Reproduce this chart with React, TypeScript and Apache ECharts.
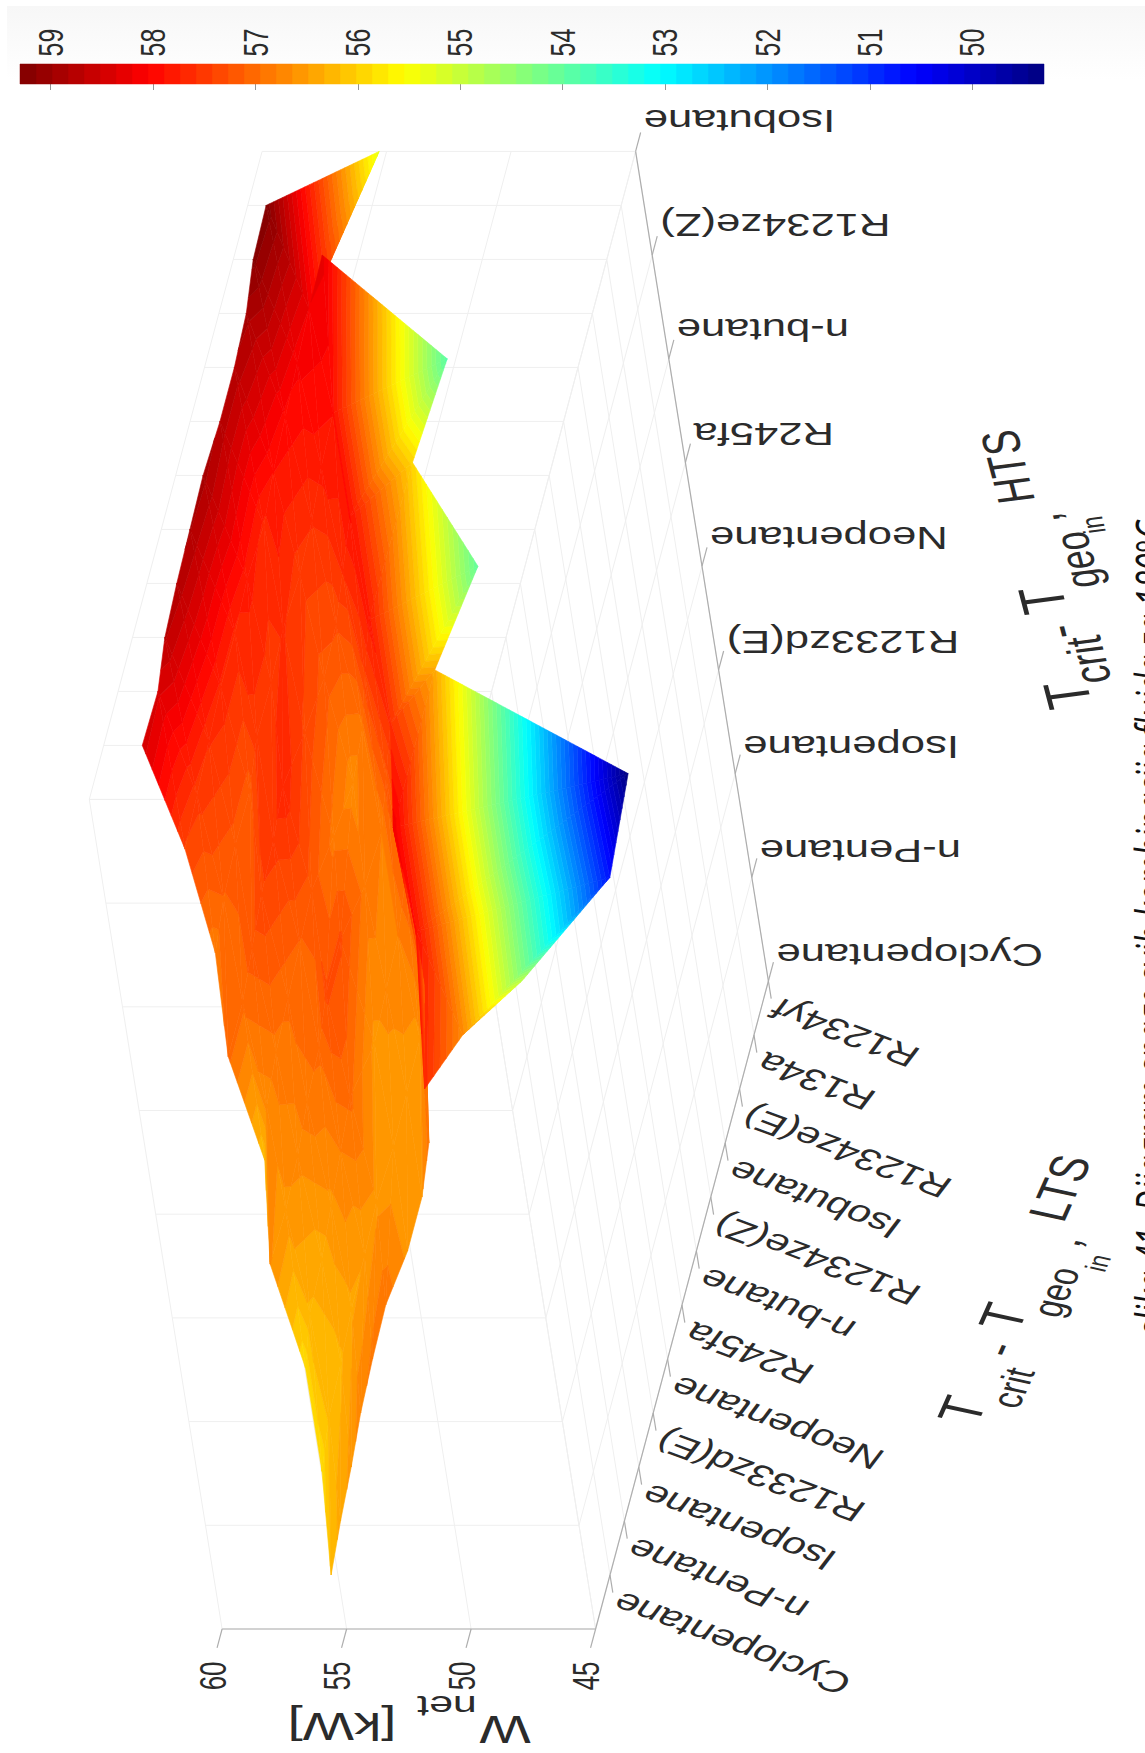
import React, { useEffect, useRef } from "react";
import * as echarts from "echarts";

const W = 1145, H = 1753;
const ltsLabels = ["Cyclopentane","n-Pentane","Isopentane","R1233zd(E)","Neopentane","R245fa","n-butane","R1234ze(Z)","Isobutane","R1234ze(E)","R134a","R1234yf"];
const htsLabels = ["Cyclopentane","n-Pentane","Isopentane","R1233zd(E)","Neopentane","R245fa","n-butane","R1234ze(Z)","Isobutane"];
const zTicks = [45, 50, 55, 60];
const cbTicks = [59,58,57,56,55,54,53,52,51,50];
const caption = "slika 41. Dijagram snage svih kombinacija fluida za 180°C";
// rows: HTS index, columns: LTS index
const row0 = [56.2,56.4,56.55,56.75,56.85,56.9,56.6,56.6,56.9,57.65,56.7,54.9];
const row1 = [55.9,56.2,56.3,56.45,56.5,56.6,56.5,56.55,56.6,57.0,57.9,50.7];
const row2 = [55.9,56.3,56.4,56.6,56.8,57.0,56.6,56.7,56.8,57.1,58.15,49.3];
const row3 = [56.65,56.6,56.7,56.9,57.0,57.3,57.3,56.9,56.8,57.2,57.6,56.4];
const row4 = [56.2,56.7,56.9,57.0,57.1,57.2,56.9,56.7,56.9,57.4,57.8,54.0];
const row5 = [57.0,57.0,57.2,57.4,57.5,57.7,57.4,57.2,57.3,57.6,57.9,55.96];
const row6 = [56.85,57.1,57.2,57.2,57.5,57.5,57.6,57.5,57.6,57.8,57.9,53.9];
const row7 = [57.4,57.5,57.6,57.7,57.7,57.8,57.7,57.9,58.0,58.1,58.2,58.25];
const row8 = [58.45,58.4,58.7,58.8,58.85,58.9,58.8,58.8,58.9,59.2,59.26,55.3];
const rows = [row0,row1,row2,row3,row4,row5,row6,row7,row8];
const zMin = 49.3, zMax = 59.3, LEVELS = 64;

function jet(f: number): string {
  const c = (x: number) => Math.round(255 * Math.max(0, Math.min(1, x)));
  return `rgb(${c(Math.min(4*f-1.5, -4*f+4.5))},${c(Math.min(4*f-0.5, -4*f+3.5))},${c(Math.min(4*f+0.5, -4*f+2.5))})`;
}
const levelColor = (k: number) => jet((k + 0.5) / LEVELS);

// oblique projection of the box; i = LTS index, j = HTS index
const proj = (i: number, j: number, z: number): [number, number] => [
  610 + 14.4 * i - 16.6 * j - 24.9 * (z - 45),
  1575 - 54 * i - 103.7 * j,
];
type V = { p: [number, number]; z: number };
function clip(tri: V[], lo: number, hi: number): V[] {
  const cut = (poly: V[], keep: (z: number) => boolean, lim: number) => {
    const out: V[] = [];
    for (let a = 0; a < poly.length; a++) {
      const A = poly[a], B = poly[(a + 1) % poly.length];
      const ka = keep(A.z), kb = keep(B.z);
      if (ka) out.push(A);
      if (ka !== kb) {
        const t = (lim - A.z) / (B.z - A.z);
        out.push({ p: [A.p[0] + t * (B.p[0] - A.p[0]), A.p[1] + t * (B.p[1] - A.p[1])], z: lim });
      }
    }
    return out;
  };
  return cut(cut(tri, (z) => z >= lo, lo), (z) => z <= hi, hi);
}

function cellData() {
  const d: number[][] = [];
  for (let i = 0; i < ltsLabels.length - 1; i++)
    for (let j = htsLabels.length - 2; j >= 0; j--) d.push([i, j]);
  return d;
}

function surfaceItem(params: any, api: any) {
  const i = api.value(0), j = api.value(1);
  const v = (a: number, b: number): V => {
    const z = rows[b][a];
    const [x, y] = proj(a, b, z);
    return { p: api.coord([x, y]) as [number, number], z };
  };
  const tris = [
    [v(i, j), v(i + 1, j), v(i + 1, j + 1)],
    [v(i, j), v(i + 1, j + 1), v(i, j + 1)],
  ];
  const children: any[] = [];
  for (const tri of tris) {
    for (let k = 0; k < LEVELS; k++) {
      const lo = zMin + ((zMax - zMin) * k) / LEVELS, hi = zMin + ((zMax - zMin) * (k + 1)) / LEVELS;
      const poly = clip(tri, k === 0 ? -1e9 : lo, k === LEVELS - 1 ? 1e9 : hi);
      if (poly.length >= 3) {
        const col = levelColor(k);
        children.push({ type: "polygon", shape: { points: poly.map((q) => q.p) }, style: { fill: col, stroke: col, lineWidth: 0.6 }, silent: true });
      }
    }
  }
  return { type: "group", children };
}

function App() {
  const ref = useRef<HTMLDivElement>(null);
  useEffect(() => {
    document.body.style.margin = "0";
    const chart = echarts.init(ref.current!, undefined, { renderer: "svg", width: W, height: H });
    const gridC = "#efefef", axisC = "#adadad", textC = "#2b2b2b";
    const gridLines: number[][] = [];
    const seg = (a: [number, number], b: [number, number]) => gridLines.push([a[0], a[1], b[0], b[1]]);
    for (let i = -1; i <= 11; i++) {
      seg(proj(i, 0, 45), proj(i, 8, 45));
      seg(proj(i, 8, 45), proj(i, 8, 60));
    }
    for (let j = 0; j <= 8; j++) {
      seg(proj(-1, j, 45), proj(11, j, 45));
      seg(proj(-1, j, 45), proj(-1, j, 60));
    }
    for (const z of zTicks) {
      seg(proj(-1, 0, z), proj(-1, 8, z));
      seg(proj(-1, 8, z), proj(11, 8, z));
    }
    const axisSegs: number[][] = [];
    const aseg = (a: [number, number], b: [number, number]) => axisSegs.push([a[0], a[1], b[0], b[1]]);
    aseg(proj(-1, 0, 45), proj(-1, 0, 60));
    aseg(proj(-1, 0, 45), proj(11, 0, 45));
    aseg(proj(11, 0, 45), proj(11, 8, 45));
    for (const z of zTicks) aseg(proj(-1, 0, z), proj(-1.35, 0, z));
    ltsLabels.forEach((_, i) => aseg(proj(i, 0, 45), proj(i, -0.17, 45)));
    htsLabels.forEach((_, j) => aseg(proj(11, j, 45), proj(11.35, j, 45)));

    const SX = 1.43;
    const label = (text: string, x: number, y: number, rot: number, size: number, align: string, extra: any = {}) => ({
      type: "group", x, y, scaleX: SX, scaleY: 1, silent: true,
      children: [{ type: "text", rotation: rot, style: { text, fontFamily: "Liberation Sans", fontSize: size, fill: textC, align, verticalAlign: "middle", ...extra } }],
    });
    const graphics: any[] = [];
    const ltsRot = Math.PI - Math.atan(Math.tan((20.4 * Math.PI) / 180) * SX);
    ltsLabels.forEach((t, i) => {
      const [x, y] = proj(i, -0.17, 45);
      graphics.push(label(t, x + 3, y + 8, ltsRot, 30, "right"));
    });
    htsLabels.forEach((t, j) => {
      const [x, y] = proj(11.35, j, 45);
      graphics.push(label(t, x + 3, y - 12 + (8 - j) * 0.6, Math.PI, 30.5, "right"));
    });
    zTicks.forEach((z) => {
      const [x, y] = proj(-1.35, 0, z);
      graphics.push(label(String(z), x - 4, y + 28, Math.PI / 2, 26, "center"));
    });
    const cbX = (v: number) => 20 + ((zMax - v) / (zMax - zMin)) * 1024;
    cbTicks.forEach((v) => graphics.push(label(String(v), cbX(v), 42.5, Math.PI / 2, 25, "center")));
    // axis titles
    const R_H = Math.atan2(223, -41), R_L = Math.atan2(135, 42);
    const tParts: [string, number, number, number, number][] = [
      // text, x, y, size, rotation
      ["T", 1068, 695, 44, R_H], ["crit", 1088, 660, 36, R_H], ["-", 1058, 632, 40, R_H], ["T", 1043, 600, 44, R_H],
      ["geo", 1077, 560, 34, R_H], ["in", 1093, 525, 22, R_H], [",", 1041, 519, 38, R_H], ["HTS", 1008, 467, 37, R_H],
      ["T", 962, 1410, 42, R_L], ["crit", 1013, 1388, 30, R_L], ["-", 998, 1349, 38, R_L], ["T", 1003, 1317, 42, R_L],
      ["geo", 1056, 1292, 30, R_L], ["in", 1098, 1263, 21, R_L], [",", 1063, 1240, 36, R_L], ["LTS", 1060, 1188, 38, R_L],
      ["W", 505, 1729, 38, Math.PI], ["net", 447, 1706, 30, Math.PI], ["[kW]", 342, 1726, 38, Math.PI],
    ];
    tParts.forEach((p) => graphics.push(label(p[0], p[1], p[2], p[4], p[3], "center")));
    // caption, cut off by the page's right edge as in the source
    graphics.push(label(caption, 1152, 1335, Math.PI / 2, 32, "left", { fontStyle: "italic", fontFamily: "Open Sans", fill: "#111" }));

    chart.setOption({
      animation: false,
      backgroundColor: "#fff",
      grid: [
        { left: 0, top: 0, width: W, height: H, show: false },
        { left: 20, top: 64, width: 1024, height: 20, show: false },
      ],
      xAxis: [
        { type: "value", gridIndex: 0, min: 0, max: W, show: false },
        { type: "value", gridIndex: 1, min: zMin, max: zMax, inverse: true, position: "top", axisLine: { show: false }, splitLine: { show: false },
          axisTick: { show: true, inside: true, length: 6, customValues: cbTicks, lineStyle: { color: "rgba(60,60,60,0.55)" } },
          axisLabel: { show: false } },
      ],
      yAxis: [
        { type: "value", gridIndex: 0, min: 0, max: H, inverse: true, show: false },
        { type: "value", gridIndex: 1, min: 0, max: 1, show: false },
      ],
      series: [
        { type: "custom", xAxisIndex: 0, yAxisIndex: 0, silent: true, z: 1,
          renderItem: () => ({ type: "group", children: gridLines.map((s) => ({ type: "line", shape: { x1: s[0], y1: s[1], x2: s[2], y2: s[3] }, style: { stroke: gridC, lineWidth: 1 } })) }),
          data: [[0, 0]], encode: { x: 0, y: 1 } },
        { type: "custom", xAxisIndex: 0, yAxisIndex: 0, silent: true, z: 2,
          renderItem: () => ({ type: "group", children: axisSegs.map((s) => ({ type: "line", shape: { x1: s[0], y1: s[1], x2: s[2], y2: s[3] }, style: { stroke: axisC, lineWidth: 1.2 } })) }),
          data: [[0, 0]], encode: { x: 0, y: 1 } },
        { type: "custom", xAxisIndex: 0, yAxisIndex: 0, silent: true, z: 3, renderItem: surfaceItem, data: cellData(), encode: { x: 0, y: 1 }, clip: false },
        { type: "custom", xAxisIndex: 1, yAxisIndex: 1, silent: true, z: 1,
          renderItem: (_: any, api: any) => {
            const k = api.value(0);
            const a = api.coord([zMin + ((zMax - zMin) * k) / LEVELS, 1]), b = api.coord([zMin + ((zMax - zMin) * (k + 1)) / LEVELS, 0]);
            const col = levelColor(k);
            return { type: "rect", shape: { x: b[0], y: a[1], width: a[0] - b[0], height: b[1] - a[1] }, style: { fill: col, stroke: col, lineWidth: 0.5 } };
          },
          data: Array.from({ length: LEVELS }, (_, k) => [k, 0]), encode: { x: 0, y: 1 } },
      ],
      graphic: [
        { type: "rect", z: -1, shape: { x: 7, y: 6, width: W - 7, height: 74 }, silent: true,
          style: { fill: new echarts.graphic.LinearGradient(0, 0, 0, 1, [{ offset: 0, color: "#f7f7f7" }, { offset: 1, color: "#ffffff" }]) } },
        ...graphics,
      ],
    });
    return () => chart.dispose();
  }, []);
  return <div ref={ref} style={{ width: W, height: H }} />;
}
export default App;
